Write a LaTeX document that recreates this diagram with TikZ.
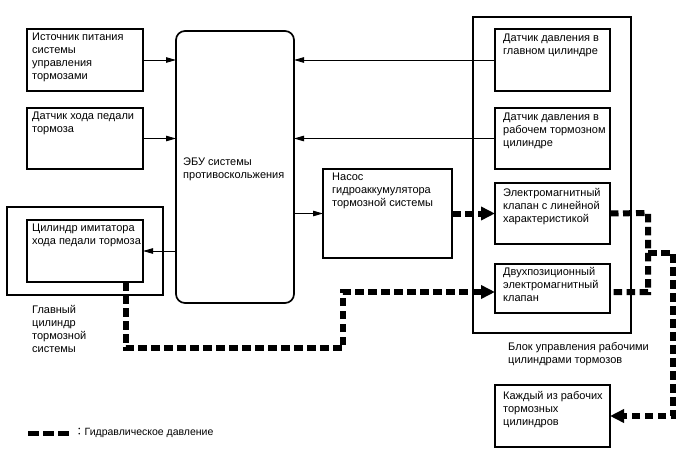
\documentclass[tikz,border=0pt]{standalone}
\usepackage{fontspec}
\setmainfont{Liberation Sans}
\newfontfamily\cjkf{Noto Sans CJK JP}
\usetikzlibrary{arrows.meta,calc}
\begin{document}
\begin{tikzpicture}[x=1pt,y=-1pt,
  every node/.style={font=\fontsize{11}{13}\selectfont},
  blk/.style={draw,line width=1.5pt,rectangle,anchor=north west,inner sep=0pt,outer sep=0pt},
  outer/.style={draw,line width=1.2pt,rectangle,anchor=north west,inner sep=0pt,outer sep=0pt},
  txt/.style={anchor=north west,inner sep=0pt,align=left},
  sig/.style={line width=0.9pt,-{Triangle[length=10pt,width=5.5pt]}},
  hyd/.style={line width=6pt,dash pattern=on 8.5pt off 4.5pt},
  hyda/.style={hyd,-{Triangle[length=14pt,width=13pt]}}]
\useasboundingbox (0,0) rectangle (688,463);
% outer boxes
\node[outer,minimum width=156pt,minimum height=88pt] (mc) at (7,207) {};
\node[outer,minimum width=158pt,minimum height=316pt] (blk) at (473,17) {};
% left boxes
\node[blk,minimum width=116pt,minimum height=62pt] (pwr) at (27,29) {};
\node[txt] (pwrt) at (32,33) {Источник питания\\системы\\управления\\тормозами};
\node[blk,minimum width=116pt,minimum height=61pt] (pedal) at (27,108) {};
\node[txt] (pedalt) at (32,112) {Датчик хода педали\\тормоза};
\node[blk,minimum width=116pt,minimum height=62pt] (cyl) at (27,220) {};
\node[txt] (cylt) at (32,224) {Цилиндр имитатора\\хода педали тормоза};
\node[txt] (mct) at (32,305) {Главный\\цилиндр\\тормозной\\системы};
% ECU
\node[draw,line width=1.7pt,rounded corners=9pt,anchor=north west,inner sep=0pt,outer sep=0pt,
  minimum width=118pt,minimum height=272pt] (ecu) at (176,31) {};
\node[txt] (ecut) at (183,158) {ЭБУ системы\\противоскольжения};
% pump
\node[blk,minimum width=129pt,minimum height=89pt] (pump) at (323,169) {};
\node[txt] (pumpt) at (332,173) {Насос\\гидроаккумулятора\\тормозной системы};
% right boxes
\node[blk,minimum width=115pt,minimum height=62pt] (s1) at (495,29) {};
\node[txt] (s1t) at (503,34) {Датчик давления в\\главном цилиндре};
\node[blk,minimum width=115pt,minimum height=61pt] (s2) at (495,108) {};
\node[txt] (s2t) at (503,113) {Датчик давления в\\рабочем тормозном\\цилиндре};
\node[blk,minimum width=115pt,minimum height=61pt] (v1) at (495,183) {};
\node[txt] (v1t) at (503,188) {Электромагнитный\\клапан с линейной\\характеристикой};
\node[blk,minimum width=115pt,minimum height=49pt] (v2) at (495,264) {};
\node[txt] (v2t) at (503,267) {Двухпозиционный\\электромагнитный\\клапан};
\node[txt] (blkt) at (508,342) {Блок управления рабочими\\цилиндрами тормозов};
\node[blk,minimum width=115pt,minimum height=62pt] (wc) at (495,385) {};
\node[txt] (wct) at (503,391) {Каждый из рабочих\\тормозных\\цилиндров};
% signal arrows
\draw[sig] (pwr.east) -- (pwr.east -| ecu.west);
\draw[sig] (pedal.east) -- (pedal.east -| ecu.west);
\draw[sig] (s1.west) -- (s1.west -| ecu.east);
\draw[sig] (s2.west) -- (s2.west -| ecu.east);
\draw[sig] (pump.west -| ecu.east) -- (pump.west);
\draw[sig] (cyl.east -| ecu.west) -- (cyl.east);
% hydraulic lines
\coordinate (c0) at ($(cyl.south west)+(99,0)$);
\coordinate (v2in) at ($(v2.north west)+(0,28)$);
\coordinate (v2out) at ($(v2.north east)+(0,28)$);
\coordinate (j) at (648,253);
\coordinate (wcin) at ($(wc.north east)+(0,31)$);
\draw[hyda] (pump.east) -- (v1.west);
\draw[hyda] (c0) -- (126,348) -- (343,348) -- (343,292) -- (v2in);
\draw[hyd] (v1.east) -- (648,213) -- (648,292) -- (v2out);
\draw[hyda] (j) -- (673,253) -- (673,416) -- (wcin);
% legend
\coordinate (lg0) at (28,433);
\coordinate (lg1) at (72,433);
\draw[line width=5pt,dash pattern=on 11pt off 4pt] (lg0) -- (lg1);
\node[anchor=west,inner sep=0pt,font=\fontsize{10.5}{12}\selectfont] (lgt) at (74,433) {{\cjkf ：}Гидравлическое давление};
\end{tikzpicture}
\end{document}
